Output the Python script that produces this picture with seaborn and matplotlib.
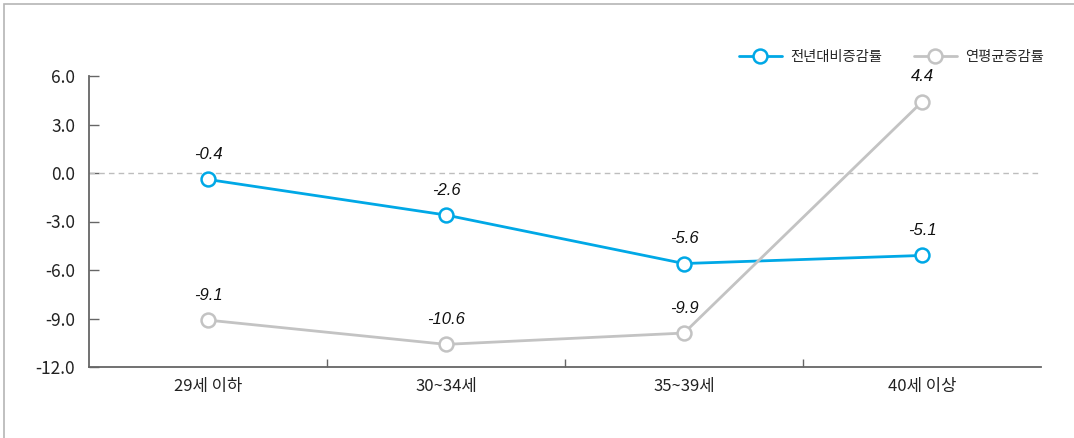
import matplotlib
matplotlib.use("Agg")
import matplotlib.pyplot as plt
import seaborn as sns
import pandas as pd
from matplotlib.patches import Rectangle

categories = ["29세 이하", "30~34세", "35~39세", "40세 이상"]
series_names = ["전년대비증감률", "연평균증감률"]
yoy_values = [-0.4, -2.6, -5.6, -5.1]
avg_values = [-9.1, -10.6, -9.9, 4.4]
y_ticks = [6.0, 3.0, 0.0, -3.0, -6.0, -9.0, -12.0]
colors = ["#00a8e6", "#c3c3c3"]

sns.set_theme(style="white")
plt.rcParams['font.family'] = ['Noto Sans CJK KR', 'DejaVu Sans']

df = pd.DataFrame({
    "cat": categories * 2,
    "x": list(range(len(categories))) * 2,
    "value": yoy_values + avg_values,
    "series": [series_names[0]] * 4 + [series_names[1]] * 4,
})

fig = plt.figure(figsize=(10.74, 4.38), dpi=100)
ax = fig.add_axes([89 / 1074, 71 / 438, (1041 - 89) / 1074, (367 - 76) / 438])

ax.axhline(0, color="#bdbdbd", lw=1.0, ls=(0, (4, 3)), zorder=1)

sns.lineplot(data=df, x="x", y="value", hue="series", hue_order=series_names,
             palette=colors, marker="o", markersize=10, markerfacecolor="white",
             markeredgewidth=1.8, linewidth=2.0, ax=ax, zorder=3)
for line, c in zip(ax.lines[1:], colors):
    line.set_markeredgecolor(c)

for vals in (yoy_values, avg_values):
    for i, v in enumerate(vals):
        ax.annotate(f"{v:.1f}", (i, v), xytext=(0, 18), textcoords="offset points",
                    ha="center", va="center", fontsize=12, fontstyle="italic",
                    family="Liberation Sans", color="#111111")

ax.set_xlim(-0.5, 3.5)
ax.set_ylim(-12, 6)
ax.set_yticks(y_ticks)
ax.set_yticklabels([f"{t:.1f}" for t in y_ticks], fontsize=12.5, color="#222222")
ax.set_xticks(range(len(categories)))
ax.set_xticklabels(categories, fontsize=12, color="#222222")
ax.set_xticks([0.5, 1.5, 2.5], minor=True)
ax.tick_params(axis="x", which="major", length=0, pad=8)
ax.tick_params(axis="x", which="minor", direction="in", length=6, width=1, color="#666666", bottom=True)
ax.tick_params(axis="y", which="major", direction="in", length=7, width=1, color="#666666", left=True, pad=10)
ax.set_xlabel("")
ax.set_ylabel("")

for s in ["top", "right"]:
    ax.spines[s].set_visible(False)
for s in ["left", "bottom"]:
    ax.spines[s].set_color("#666666")
    ax.spines[s].set_linewidth(1.3)

leg = ax.legend(loc="center right", bbox_to_anchor=(1.003, 1.066), ncol=2, frameon=False,
                fontsize=10.3, handlelength=3.0, columnspacing=2.2, handletextpad=0.6,
                borderaxespad=0, borderpad=0)
for h, c in zip(leg.legend_handles, colors):
    h.set_markeredgecolor(c)
    h.set_markerfacecolor("white")

fig.patches.append(Rectangle((4 / 1074, -0.1), 1.2, (434 / 438) + 0.1, transform=fig.transFigure,
                             fill=False, edgecolor="#b5b5b5", lw=1.2, zorder=0))

fig.savefig("out.png", dpi=100)
